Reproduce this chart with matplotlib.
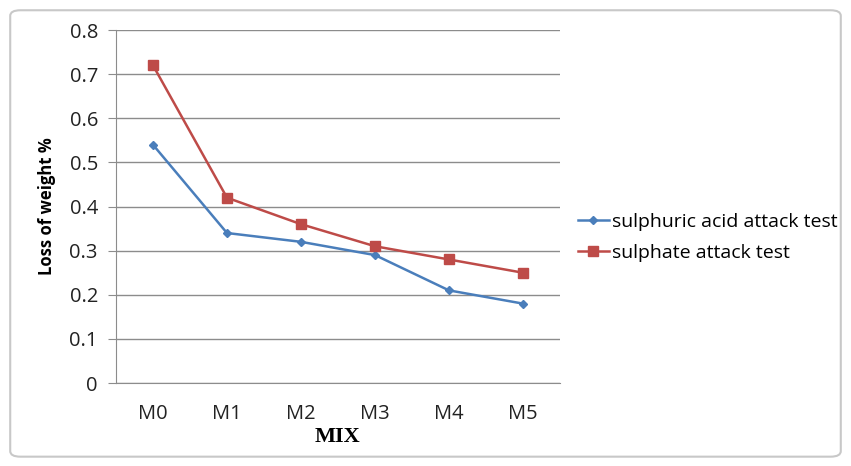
import matplotlib.pyplot as plt
from matplotlib.patches import FancyBboxPatch

# Mix designations and weight loss (%) for both durability tests
mixes = ['M0', 'M1', 'M2', 'M3', 'M4', 'M5']
acid_loss = [0.54, 0.34, 0.32, 0.29, 0.21, 0.18]
sulphate_loss = [0.72, 0.42, 0.36, 0.31, 0.28, 0.25]
y_ticks = [0, 0.1, 0.2, 0.3, 0.4, 0.5, 0.6, 0.7, 0.8]

grid_col = '#8c8c8c'
blue = '#4a7ebb'
red = '#be4b48'

fig = plt.figure(figsize=(8.51, 4.66), dpi=100)

# chart frame
frame = FancyBboxPatch((0.012, 0.02), 0.976, 0.958, transform=fig.transFigure,
                       boxstyle='round,pad=0,rounding_size=0.012',
                       facecolor='none', edgecolor='#c8c8c8', linewidth=1.5,
                       zorder=-1)
fig.patches.append(frame)

ax = fig.add_axes([0.1363, 0.178, 0.5217, 0.7576])
ax.patch.set_alpha(0)
x = range(len(mixes))
ax.plot(x, acid_loss, color=blue, linewidth=1.8, marker='D', markersize=4.5,
        label='sulphuric acid attack test')
ax.plot(x, sulphate_loss, color=red, linewidth=1.8, marker='s', markersize=6.5,
        label='sulphate attack test')

ax.set_xlim(-0.5, len(mixes) - 0.5)
ax.set_ylim(0, 0.8)
ax.set_yticks(y_ticks)
ax.set_yticklabels(['0'] + [f'{v:.1f}' for v in y_ticks[1:]])
ax.set_xticks(list(x))
ax.set_xticklabels(mixes)
ax.grid(axis='y', color=grid_col, linewidth=1)
ax.set_axisbelow(True)

for s in ['top', 'right']:
    ax.spines[s].set_visible(False)
ax.spines['left'].set_color(grid_col)
ax.spines['bottom'].set_color(grid_col)
ax.tick_params(axis='y', length=6, color=grid_col, labelsize=14.5, pad=7,
               labelcolor='#222222')
ax.tick_params(axis='x', length=0, labelsize=14.5, pad=15, labelcolor='#222222')
for lbl in ax.get_xticklabels() + ax.get_yticklabels():
    lbl.set_family('Open Sans')

ax.set_xlabel('MIX', fontsize=16, fontweight='bold', family='Liberation Serif',
              labelpad=2)
ax.set_ylabel('Loss of weight %', fontsize=12, fontweight='bold',
              family='Open Sans', labelpad=10)

ax.legend(loc='center left', bbox_to_anchor=(1.04, 0.412), frameon=False,
          prop={'family': 'Open Sans', 'size': 14}, handlelength=1.6,
          handletextpad=0.15, labelspacing=0.65, borderpad=0, borderaxespad=0)

fig.savefig('out.png', dpi=100)
